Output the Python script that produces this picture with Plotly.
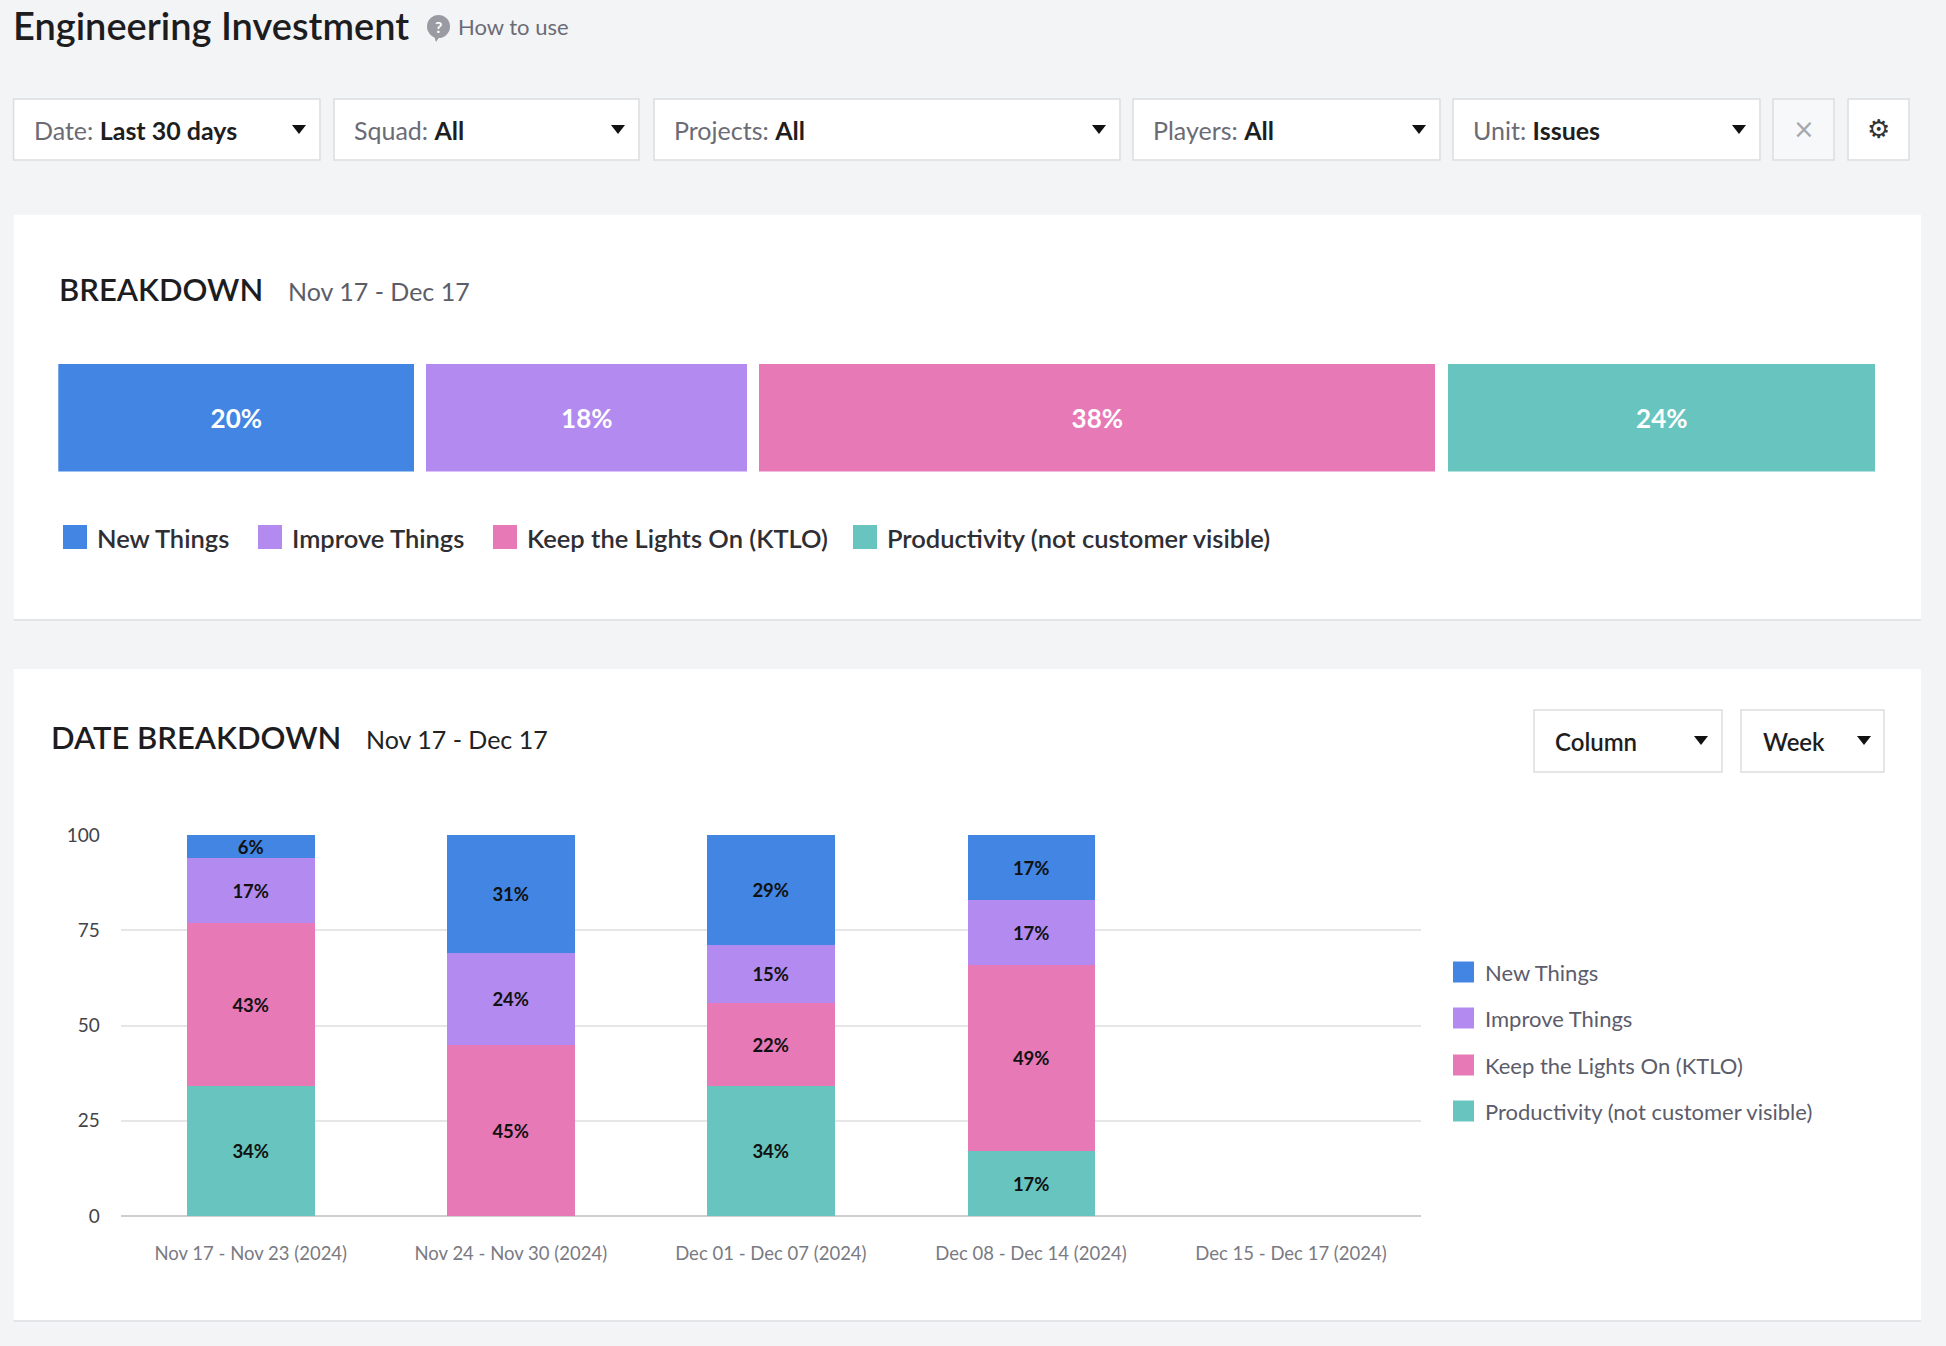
import plotly.graph_objects as go

W, H = 1946, 1346

# ---------------- data ----------------
categories = ["New Things", "Improve Things", "Keep the Lights On (KTLO)", "Productivity (not customer visible)"]
overall_pct = [20, 18, 38, 24]
cat_colors = ["#4285e3", "#b38aef", "#e779b7", "#67c4be"]

weeks = ["Nov 17 - Nov 23 (2024)", "Nov 24 - Nov 30 (2024)", "Dec 01 - Dec 07 (2024)",
         "Dec 08 - Dec 14 (2024)", "Dec 15 - Dec 17 (2024)"]
new_things = [6, 31, 29, 17, None]
improve_things = [17, 24, 15, 17, None]
ktlo = [43, 45, 22, 49, None]
productivity = [34, None, 34, 17, None]

y_ticks = [0, 25, 50, 75, 100]

filter_labels = ["Date:", "Squad:", "Projects:", "Players:", "Unit:"]
filter_values = ["Last 30 days", "All", "All", "All", "Issues"]

FONT = "Lato"


def px(x):
    return x / W


def py(y):
    return 1 - y / H


fig = go.Figure()

# overall breakdown bar: segments laid end to end with a small white gap
bar_left, bar_right, gap_px = 58.3, 1875, 12.4
gap = gap_px * 100 / (bar_right - bar_left - gap_px * (len(overall_pct) - 1))
start = 0
for name, val, col in zip(categories, overall_pct, cat_colors):
    fig.add_trace(go.Bar(x=[val], y=[0], base=[start], orientation="h", name=name, width=1,
                         marker=dict(color=col, line=dict(width=0)),
                         text=[f"{val}%"], textposition="inside", insidetextanchor="middle",
                         textangle=0, constraintext="none",
                         textfont=dict(family=FONT, size=26, color="white", weight=700),
                         xaxis="x2", yaxis="y2", showlegend=False, hoverinfo="skip"))
    start += val + gap

# weekly column chart, stacked bottom -> top
weekly = [productivity, ktlo, improve_things, new_things]
for name, vals, col in zip(categories[::-1], weekly, cat_colors[::-1]):
    fig.add_trace(go.Bar(x=weeks, y=vals, name=name, width=0.49,
                         marker=dict(color=col, line=dict(width=0)),
                         texttemplate="%{y}%", textposition="inside", insidetextanchor="middle",
                         textangle=0, constraintext="none",
                         textfont=dict(family=FONT, size=18.5, color="#111111", weight=700),
                         showlegend=False))

shapes = []
annos = []


def rect(x0, y0, x1, y1, fill, line=None, lw=1):
    shapes.append(dict(type="rect", xref="paper", yref="paper", layer="below",
                       x0=px(x0), x1=px(x1), y0=py(y1), y1=py(y0), fillcolor=fill,
                       line=dict(color=line or fill, width=lw if line else 0)))


def text(x, y, s, size, color, weight=400, anchor="left", family=FONT):
    annos.append(dict(x=px(x), y=py(y), xref="paper", yref="paper", text=s, showarrow=False,
                      xanchor=anchor, yanchor="middle",
                      font=dict(family=family, size=size, color=color, weight=weight)))


def arrow(cx, cy):
    shapes.append(dict(type="path", xref="paper", yref="paper",
                       path=f"M {px(cx - 7)},{py(cy - 4)} L {px(cx + 7)},{py(cy - 4)} L {px(cx)},{py(cy + 5)} Z",
                       fillcolor="#111111", line=dict(width=0)))


# page header
text(11, 25, "Engineering Investment", 38, "#1d1d1f", 600)
shapes.append(dict(type="circle", xref="paper", yref="paper", x0=px(427), x1=px(450),
                   y0=py(38), y1=py(15), fillcolor="#9a9aa2", line=dict(width=0)))
shapes.append(dict(type="path", xref="paper", yref="paper", fillcolor="#9a9aa2", line=dict(width=0),
                   path=f"M {px(434)},{py(36)} L {px(440)},{py(36)} L {px(436)},{py(42)} Z"))
text(438.5, 26.5, "?", 16, "white", 700, "center")
text(456, 26, "How to use", 22, "#6b6b75")

# filter bar
filter_boxes = [(13.6, 320), (334, 639), (654, 1120), (1133, 1440), (1453, 1760)]
for (x0, x1), lab, val in zip(filter_boxes, filter_labels, filter_values):
    rect(x0, 99, x1, 160, "white", "#dcdde0", 1.5)
    text(x0 + 18, 130, f"<span style='color:#6b6b75'>{lab} </span><b>{val}</b>", 25, "#1e1e1e")
    arrow(x1 - 21, 129)
rect(1773, 99, 1834, 160, "#f7f8fa", "#dcdde0", 1.5)
text(1803.5, 129, "×", 26, "#a4a8ae", 400, "center", "DejaVu Sans")
rect(1848, 99, 1909, 160, "white", "#dcdde0", 1.5)
text(1878.5, 129, "⚙", 26, "#333333", 400, "center", "DejaVu Sans")

# cards
rect(13.6, 217, 1921, 621, "#e4e5e8")
rect(13.6, 214.7, 1921, 619, "white")
rect(13.6, 671, 1921, 1322, "#e4e5e8")
rect(13.6, 669, 1921, 1320, "white")

# breakdown card header + legend
text(57, 289, "BREAKDOWN", 31, "#1d1d1f", 600)
text(286, 291, "Nov 17 - Dec 17", 25, "#5d5d68")
legend_top_x = [63, 258, 493, 853]
for x, name, col in zip(legend_top_x, categories, cat_colors):
    rect(x, 525, x + 24, 549, col)
    text(x + 32, 538, name, 25.5, "#2e2e33", 600)

# date breakdown card header + controls
text(49, 737, "DATE BREAKDOWN", 31, "#1d1d1f", 600)
text(364, 739, "Nov 17 - Dec 17", 25, "#222222")
rect(1534, 710, 1722, 772, "white", "#dcdde0", 1.5)
text(1553, 741, "Column", 24, "#1e1e1e", 600)
arrow(1701, 740)
rect(1741, 710, 1884, 772, "white", "#dcdde0", 1.5)
text(1761, 741, "Week", 24, "#1e1e1e", 600)
arrow(1864, 740)

# right legend
legend_rows = [972, 1018, 1065, 1111]
for y, name, col in zip(legend_rows, categories, cat_colors):
    rect(1453, y - 10.5, 1474, y + 10.5, col)
    text(1483, y, name, 22, "#5c5c6b", 400)

fig.update_layout(
    width=W, height=H, margin=dict(l=0, r=0, t=0, b=0, autoexpand=False),
    paper_bgcolor="#f3f4f6", plot_bgcolor="rgba(0,0,0,0)",
    barmode="stack", bargap=0,
    font=dict(family=FONT),
    shapes=shapes, annotations=annos,
    xaxis=dict(domain=[px(120.7), px(1421)], anchor="y", showgrid=False, automargin=False,
               tickfont=dict(family=FONT, size=18.5, color="#7a7a82"), ticks="",
               ticklabelstandoff=24, fixedrange=True),
    yaxis=dict(domain=[py(1216), py(835)], range=[0, 100], tickvals=y_ticks, automargin=False,
               gridcolor="#e6e6e8", gridwidth=1.5, zeroline=True, zerolinecolor="#cfcfd3",
               zerolinewidth=2, tickfont=dict(family=FONT, size=19, color="#444448"),
               ticklabelstandoff=20, fixedrange=True),
    xaxis2=dict(domain=[px(bar_left), px(bar_right)], range=[0, start - gap], visible=False,
                anchor="y2", automargin=False),
    yaxis2=dict(domain=[py(471.6), py(363.6)], range=[-0.5, 0.5], visible=False, anchor="x2",
                automargin=False),
)

fig.write_html("out.html", config={"displayModeBar": False},
               post_script="document.body.style.margin='0';document.body.style.background='#f3f4f6';")
